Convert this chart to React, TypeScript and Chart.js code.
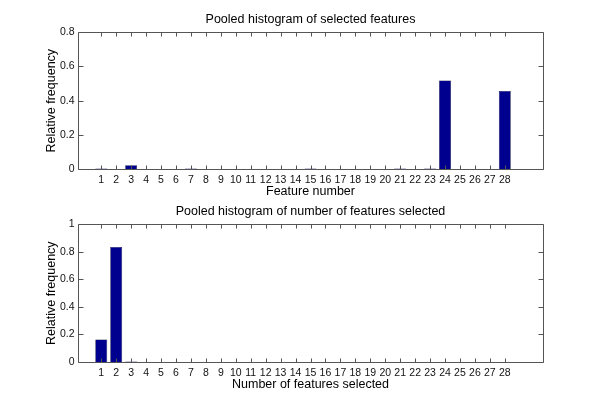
import React, { useEffect, useRef } from "react";
import { Chart, registerables } from "chart.js";

Chart.register(...registerables);

// ---- data ----
const featureNumbers = [
  1, 2, 3, 4, 5, 6, 7, 8, 9, 10, 11, 12, 13, 14, 15, 16, 17, 18, 19, 20, 21, 22, 23, 24, 25, 26, 27, 28,
];
const selectedFeatureFreq = [
  0.003, 0, 0.022, 0, 0, 0, 0.003, 0, 0, 0, 0, 0, 0, 0, 0.003, 0, 0, 0, 0, 0, 0.003, 0, 0.003, 0.518, 0, 0, 0, 0.457,
];
const numberSelectedFreq = [
  0.164, 0.835, 0.003, 0, 0, 0, 0, 0, 0, 0, 0, 0, 0, 0, 0, 0, 0, 0, 0, 0, 0, 0, 0, 0, 0, 0, 0, 0,
];
const topYTicks = [0, 0.2, 0.4, 0.6, 0.8];
const topYTickLabels = ["0", "0.2", "0.4", "0.6", "0.8"];
const bottomYTicks = [0, 0.2, 0.4, 0.6, 0.8, 1];
const bottomYTickLabels = ["0", "0.2", "0.4", "0.6", "0.8", "1"];

const FONT = "'Liberation Sans', Arial, Helvetica, sans-serif";
const AXIS_COLOR = "#555555";
const BAR_COLOR = "#00008f";

const boxTicksPlugin = {
  id: "boxTicks",
  afterDatasetsDraw(chart: any) {
    const { ctx, chartArea: a, scales } = chart;
    ctx.save();
    ctx.strokeStyle = AXIS_COLOR;
    ctx.lineWidth = 1;
    const L = Math.round(a.left) + 0.5;
    const R = Math.round(a.right) + 0.5;
    const T = Math.round(a.top) + 0.5;
    const B = Math.round(a.bottom) + 0.5;
    ctx.beginPath();
    ctx.rect(L, T, R - L, B - T);
    ctx.stroke();
    ctx.beginPath();
    for (const t of scales.x.ticks) {
      const px = Math.round(scales.x.getPixelForValue(t.value)) + 0.5;
      ctx.moveTo(px, B);
      ctx.lineTo(px, B - 4);
      ctx.moveTo(px, T);
      ctx.lineTo(px, T + 4);
    }
    for (const t of scales.y.ticks) {
      const py = Math.round(scales.y.getPixelForValue(t.value)) + 0.5;
      ctx.moveTo(L, py);
      ctx.lineTo(L + 5, py);
      ctx.moveTo(R, py);
      ctx.lineTo(R - 5, py);
    }
    ctx.stroke();
    ctx.restore();
  },
};

type PanelProps = {
  height: number;
  title: string;
  xLabel: string;
  values: number[];
  yMax: number;
  yTicks: number[];
  yTickLabels: string[];
  titlePad: { top: number; bottom: number };
  xScaleHeight: number;
  xTickPad: number;
  xTitlePadBottom: number;
};

function Panel(p: PanelProps) {
  const ref = useRef<HTMLCanvasElement | null>(null);
  useEffect(() => {
    if (!ref.current) return;
    const chart = new Chart(ref.current, {
      type: "bar",
      data: {
        datasets: [
          {
            data: featureNumbers.map((x, i) => ({ x, y: p.values[i] })),
            backgroundColor: BAR_COLOR,
            borderColor: "#000033",
            borderWidth: 0.6,
            categoryPercentage: 0.8,
            barPercentage: 1,
          } as any,
        ],
      },
      options: {
        animation: false,
        responsive: false,
        maintainAspectRatio: false,
        devicePixelRatio: 1,
        layout: { padding: { left: 0, right: 57, top: 0, bottom: 0 } },
        plugins: {
          legend: { display: false },
          tooltip: { enabled: false },
          title: {
            display: true,
            text: p.title,
            color: "#000",
            fullSize: false,
            font: { family: FONT, size: 12.5, weight: "normal" as any },
            padding: p.titlePad,
          },
        },
        scales: {
          x: {
            type: "linear",
            min: 0,
            max: 30,
            grid: { display: false, drawTicks: false },
            border: { display: false },
            afterBuildTicks: (s: any) => {
              s.ticks = featureNumbers.map((v) => ({ value: v }));
            },
            afterFit: (s: any) => {
              s.height = p.xScaleHeight;
            },
            ticks: {
              autoSkip: false,
              maxRotation: 0,
              minRotation: 0,
              padding: p.xTickPad,
              color: "#111",
              font: { family: FONT, size: 10.5 },
              callback: (v: any) => String(v),
            },
            title: {
              display: true,
              text: p.xLabel,
              color: "#000",
              font: { family: FONT, size: 12.5 },
              padding: { top: 0, bottom: p.xTitlePadBottom },
            },
          },
          y: {
            min: 0,
            max: p.yMax,
            grid: { display: false, drawTicks: false },
            border: { display: false },
            afterBuildTicks: (s: any) => {
              s.ticks = p.yTicks.map((v) => ({ value: v }));
            },
            afterFit: (s: any) => {
              s.width = 78;
            },
            ticks: {
              padding: 3.5,
              color: "#111",
              font: { family: FONT, size: 10.5 },
              callback: (_v: any, i: number) => p.yTickLabels[i],
            },
            title: {
              display: true,
              text: "Relative frequency",
              color: "#000",
              font: { family: FONT, size: 12.5 },
              padding: { top: 44, bottom: 0 },
            },
          },
        },
      } as any,
      plugins: [boxTicksPlugin],
    });
    return () => chart.destroy();
  }, []);
  return <canvas ref={ref} width={600} height={p.height} style={{ display: "block", width: 600, height: p.height }} />;
}

export default function App() {
  return (
    <div style={{ position: "fixed", left: 0, top: 0, width: 600, height: 406, background: "#fff" }}>
      <div style={{ position: "absolute", left: 0, top: 0 }}>
        <Panel
          height={200}
          title="Pooled histogram of selected features"
          xLabel="Feature number"
          values={selectedFeatureFreq}
          yMax={0.8}
          yTicks={topYTicks}
          yTickLabels={topYTickLabels}
          titlePad={{ top: 12.5, bottom: 4.8 }}
          xScaleHeight={31}
          xTickPad={4.5}
          xTitlePadBottom={0.5}
        />
      </div>
      <div style={{ position: "absolute", left: 0, top: 200 }}>
        <Panel
          height={206}
          title="Pooled histogram of number of features selected"
          xLabel="Number of features selected"
          values={numberSelectedFreq}
          yMax={1}
          yTicks={bottomYTicks}
          yTickLabels={bottomYTickLabels}
          titlePad={{ top: 4.5, bottom: 4.8 }}
          xScaleHeight={44}
          xTickPad={5}
          xTitlePadBottom={14}
        />
      </div>
    </div>
  );
}
